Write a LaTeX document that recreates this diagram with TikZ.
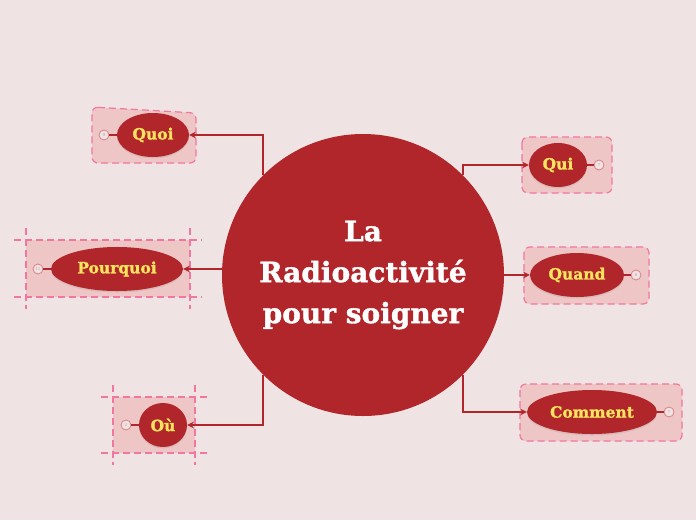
\documentclass[tikz,border=0pt]{standalone}
\usepackage{fontspec}
\setmainfont{DejaVu Serif}
\newfontfamily\gras[FakeBold=1.3]{DejaVu Serif Bold}
\usetikzlibrary{shapes.geometric,shadows}
\definecolor{fond}{HTML}{F0E3E3}
\definecolor{rouge}{HTML}{B0262A}
\definecolor{jaune}{HTML}{F9E45F}
\definecolor{rose}{HTML}{F277A0}
\definecolor{rosepale}{HTML}{EEC6C6}
\definecolor{rosefonce}{HTML}{D98A8E}

\begin{document}
\begin{tikzpicture}[x=1pt,y=-1pt,>=stealth,
  topic/.style={ellipse,fill=rouge,text=jaune,inner sep=0pt,minimum height=44pt,
    font=\gras\fontsize{15.5}{15.5}\selectfont,
    drop shadow={opacity=.18,shadow xshift=0pt,shadow yshift=-1.5pt}},
  tiret/.style={draw=rose,line width=1.2pt,dash pattern=on 7pt off 4pt},
  zone/.style={fill=rosepale,tiret,rounded corners=6pt},
  compte/.style={circle,draw=rosefonce,fill=fond,line width=.9pt,minimum size=10pt,
    inner sep=0pt,text=rosefonce,font=\fontsize{4}{4}\selectfont},
  lien/.style={draw=rouge,line width=1.9pt}]
\fill[fond] (0,0) rectangle (696,520);
% zones
\draw[zone] (92,107) -- (196,113) -- (196,163) -- (92,163) -- cycle;
\draw[zone] (522,137) rectangle (612,193);
\draw[zone] (524,247) rectangle (649,304);
\draw[zone] (520,384) rectangle (682,441);
\fill[rosepale] (26,240) rectangle (190,297);
\fill[rosepale] (113,397) rectangle (195,453);
\foreach \y in {240,297}{\draw[tiret] (14,\y)--(202,\y);}
\foreach \x in {26,190}{\draw[tiret] (\x,228)--(\x,309);}
\foreach \y in {397,453}{\draw[tiret] (101,\y)--(207,\y);}
\foreach \x in {113,195}{\draw[tiret] (\x,385)--(\x,465);}
% centre
\node[circle,fill=rouge,minimum size=282pt,inner sep=0pt,text=white,align=center,
  font=\gras\fontsize{28}{41}\selectfont] (hub) at (363,275) {La\\Radioactivité\\pour soigner};
% topics
\foreach \nom/\txt/\x/\y/\w/\cx/\k in {quoi/Quoi/153/135/72/104/9,
  pourquoi/Pourquoi/117/269/132/38/11, ou/Où/163/425/48/126/2,
  qui/Qui/558/165/58/599/7, quand/Quand/577/275/94/636/8,
  comment/Comment/592/412/130/669/7}{
  \node[compte] (n\nom) at (\cx,\y) {\k};
  \node[topic,minimum width=\w pt] (\nom) at (\x,\y) {\txt};
  \draw[lien] (n\nom) -- (\nom);
}
\draw[lien,<-] (quoi.east) -| (hub.135);
\draw[lien,<-] (pourquoi.east) -- (pourquoi.east -| hub.west);
\draw[lien,<-] (ou.east) -| (hub.-135);
\draw[lien,<-] (qui.west) -| (hub.45);
\draw[lien,<-] (quand.west) -- (quand.west -| hub.east);
\draw[lien,<-] (comment.west) -| (hub.-45);
\end{tikzpicture}
\end{document}
